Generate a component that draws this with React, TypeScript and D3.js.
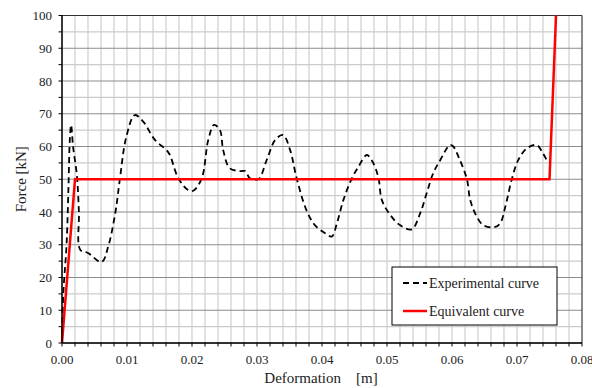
import React from 'react';
import * as d3 from 'd3';

// experimental curve
const expX = [0, 0.0002, 0.0007, 0.001, 0.0012, 0.0014, 0.0017, 0.0023, 0.0026, 0.0028, 0.004, 0.0061, 0.0071, 0.0082, 0.0089, 0.0099, 0.0112, 0.0125, 0.0143, 0.0161, 0.0166, 0.0179, 0.0194, 0.0202, 0.0215, 0.0225, 0.0234, 0.0243, 0.0248, 0.0258, 0.0274, 0.0282, 0.0289, 0.0302, 0.0315, 0.0328, 0.034, 0.0351, 0.0361, 0.0376, 0.0389, 0.0405, 0.0415, 0.0423, 0.0433, 0.0446, 0.0456, 0.0469, 0.0479, 0.0487, 0.0492, 0.0505, 0.052, 0.0538, 0.0551, 0.0561, 0.0571, 0.0582, 0.0597, 0.0602, 0.0612, 0.0623, 0.0628, 0.0638, 0.0648, 0.0664, 0.0674, 0.0682, 0.0692, 0.0702, 0.0715, 0.073, 0.074, 0.0748];
const expY = [0, 15, 30, 48, 62, 66.6, 60, 51, 40, 28.5, 27.5, 24.7, 29.4, 39.7, 50, 63, 69.6, 67.6, 62, 58.9, 57.4, 50.3, 46.7, 46.5, 50.3, 62, 66.6, 65, 58.9, 53.4, 52.5, 52.5, 50.3, 50, 55.9, 62, 63.5, 58.9, 50.3, 40.6, 36, 33.5, 32.5, 36.6, 43.7, 50.3, 53.8, 57.4, 54.9, 50.3, 43.7, 39.1, 36, 34.7, 39.6, 45.7, 51.8, 55.9, 60.5, 60, 55.9, 50, 43.7, 38.6, 36, 35.3, 36.5, 41.6, 50, 55.9, 59.4, 60.5, 57.9, 54.9];

// equivalent curve
const eqX = [0, 0.002, 0.075, 0.076];
const eqY = [0, 50, 50, 100];

const xTicks = [0, 0.01, 0.02, 0.03, 0.04, 0.05, 0.06, 0.07, 0.08];
const yTicks = [0, 10, 20, 30, 40, 50, 60, 70, 80, 90, 100];

const W = 592;
const H = 388;
const margin = { left: 62, right: 10, top: 15.5, bottom: 45 };

const App = () => {
  const x = d3.scaleLinear().domain([0, 0.08]).range([margin.left, W - margin.right]);
  const y = d3.scaleLinear().domain([0, 100]).range([H - margin.bottom, margin.top]);

  const minorX = d3.range(0, 41).map(i => i * 0.002);
  const minorY = d3.range(0, 21).map(i => i * 5);

  const line = d3.line<number>()
    .x((d, i) => x(expX[i]))
    .y(d => y(d))
    .curve(d3.curveCatmullRom.alpha(0.5));
  const eqLine = d3.line<number>()
    .x((d, i) => x(eqX[i]))
    .y(d => y(d));

  const font = '"Liberation Serif", "Times New Roman", serif';
  const x0 = x(0), x1 = x(0.08), y0 = y(0), y1 = y(100);

  return (
    <svg width={W} height={H} style={{ position: 'absolute', left: 0, top: 0 }} fontFamily={font}>
      <rect width={W} height={H} fill="#fff" />
      {/* grid */}
      {minorX.map((v, i) => (
        <line key={'gx' + i} x1={x(v)} x2={x(v)} y1={y1} y2={y0} stroke="#d2d2d2" strokeWidth={1.3} />
      ))}
      {minorY.map((v, i) => (
        <line key={'gy' + i} x1={x0} x2={x1} y1={y(v)} y2={y(v)}
          stroke={i % 2 === 0 ? '#8c8c8c' : '#cbcbcb'} strokeWidth={i % 2 === 0 ? 1 : 1.3} />
      ))}
      {/* frame */}
      <line x1={x0} x2={x1} y1={y1} y2={y1} stroke="#333" strokeWidth={1} />
      <line x1={x1} x2={x1} y1={y1} y2={y0} stroke="#333" strokeWidth={1} />
      {/* series */}
      <path d={line(expY) || ''} fill="none" stroke="#000" strokeWidth={1.8} strokeDasharray="6,4" />
      <path d={eqLine(eqY) || ''} fill="none" stroke="#ff0000" strokeWidth={2.5} />
      {/* axes */}
      <line x1={x0} x2={x0} y1={y1} y2={y0} stroke="#000" strokeWidth={1.5} />
      <line x1={x0} x2={x1} y1={y0} y2={y0} stroke="#000" strokeWidth={1.5} />
      {minorY.map((v, i) => (
        <line key={'ty' + i} x1={x0 - 3.5} x2={x0} y1={y(v)} y2={y(v)} stroke="#000" strokeWidth={1} />
      ))}
      {minorX.map((v, i) => (
        <line key={'tx' + i} x1={x(v)} x2={x(v)} y1={y0} y2={y0 + 3.5} stroke="#000" strokeWidth={1} />
      ))}
      {yTicks.map(v => (
        <text key={'ly' + v} x={x0 - 10} y={y(v) + 4.5} textAnchor="end" fontSize={13} fill="#222">{v}</text>
      ))}
      {xTicks.map(v => (
        <text key={'lx' + v} x={x(v)} y={y0 + 21} textAnchor="middle" fontSize={13} fill="#222">{v.toFixed(2)}</text>
      ))}
      <text x={321} y={383} textAnchor="middle" fontSize={15} fill="#222" style={{ whiteSpace: 'pre' }}>{'Deformation    [m]'}</text>
      <text transform={`translate(26,${(y0 + y1) / 2}) rotate(-90)`} textAnchor="middle" fontSize={15} fill="#222">Force [kN]</text>
      {/* legend */}
      <rect x={392} y={267} width={165} height={58} fill="#fff" stroke="#000" strokeWidth={1} />
      <line x1={403} x2={427} y1={283} y2={283} stroke="#000" strokeWidth={1.8} strokeDasharray="6,4" />
      <text x={429} y={288} fontSize={14} fill="#222">Experimental curve</text>
      <line x1={403} x2={427} y1={311} y2={311} stroke="#ff0000" strokeWidth={2.5} />
      <text x={429} y={316} fontSize={14} fill="#222">Equivalent curve</text>
    </svg>
  );
};

export default App;
